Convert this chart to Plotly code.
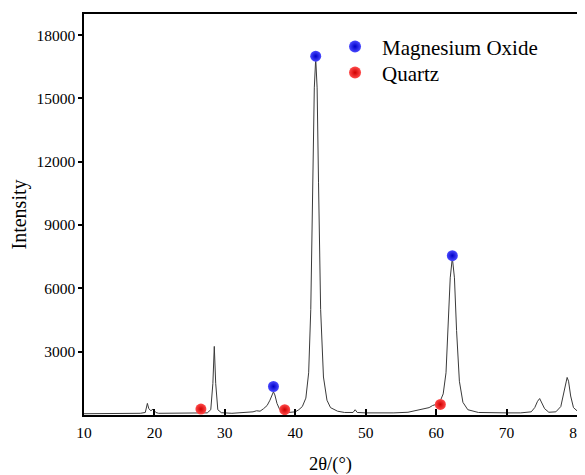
import plotly.graph_objects as go

two_theta = [10, 12, 14, 16, 18, 18.7, 19.0, 19.2, 19.5, 19.8, 20.2, 20.6, 22, 24, 26, 27.5,
             28.0, 28.3, 28.5, 28.7, 29.0, 29.5, 31, 32, 33, 34, 34.5, 35, 35.5, 36.0, 36.4,
             36.7, 36.9, 37.1, 37.4, 37.8, 38.3, 39, 40, 40.5, 41.0, 41.5, 41.9, 42.2, 42.5,
             42.7, 42.9, 43.1, 43.3, 43.6, 44.0, 44.5, 45, 46, 47, 48.2, 48.5, 48.8, 50, 52,
             54, 56, 57, 58, 58.5, 59, 59.5, 60, 60.5, 61.0, 61.4, 61.7, 62.0, 62.3, 62.6,
             62.9, 63.3, 63.8, 64.5, 66, 68, 70, 72, 73.5, 74.0, 74.4, 74.7, 75.0, 75.4, 76,
             77, 77.7, 78.1, 78.4, 78.6, 78.8, 79.1, 79.5, 80]
intensity = [60, 70, 80, 75, 80, 120, 550, 300, 200, 280, 120, 80, 80, 70, 80, 100,
             250, 1500, 3250, 1500, 250, 110, 80, 100, 110, 150, 200, 180, 300, 450, 700,
             1000, 1100, 950, 550, 250, 150, 120, 150, 250, 400, 800, 2000, 5000, 11000,
             15500, 16900, 15500, 11000, 5000, 1800, 700, 350, 180, 120, 120, 250, 120, 100, 90,
             100, 130, 200, 280, 320, 350, 450, 500, 600, 1000, 2000, 4000, 6500, 7450, 6500,
             4000, 1600, 600, 250, 120, 100, 100, 100, 150, 350, 650, 780, 600, 300, 130,
             150, 400, 1000, 1600, 1780, 1600, 900, 350, 200]

mgo_x = [36.9, 42.9, 62.3]
mgo_y = [1350, 17000, 7550]
quartz_x = [26.6, 38.5, 60.6]
quartz_y = [280, 250, 500]

y_ticks = [3000, 6000, 9000, 12000, 15000, 18000]
y_tick_labels = ["3000", "6000", "9000", "12000", "15000", "18000"]

ff = "Liberation Serif, Times New Roman, serif"

fig = go.Figure()
fig.add_trace(go.Scatter(x=two_theta, y=intensity, mode="lines",
                         line=dict(color="#3a3a3a", width=1), showlegend=False,
                         hoverinfo="skip"))
fig.add_trace(go.Scatter(x=mgo_x, y=mgo_y, mode="markers", name="Magnesium Oxide",
                         legend="legend",
                         marker=dict(size=11, color="#4a4aff",
                                     gradient=dict(type="radial", color="#0000c8"),
                                     line=dict(width=0))))
fig.add_trace(go.Scatter(x=quartz_x, y=quartz_y, mode="markers", name="Quartz",
                         legend="legend2",
                         marker=dict(size=11, color="#ff4a4a",
                                     gradient=dict(type="radial", color="#d00000"),
                                     line=dict(width=0))))

legend_style = dict(xanchor="left", yanchor="middle",
                    font=dict(size=21, family=ff, color="black"),
                    bgcolor="rgba(0,0,0,0)", itemsizing="constant", itemwidth=44)

# page body has an 8px margin, so the figure is sized 8px smaller
fig.update_layout(
    width=577, height=467,
    margin=dict(l=76, r=8, t=6, b=60, autoexpand=False),
    plot_bgcolor="white", paper_bgcolor="white",
    font=dict(family=ff, size=15, color="black"),
    legend=dict(x=0.495, y=0.918, **legend_style),
    legend2=dict(x=0.495, y=0.853, **legend_style),
    xaxis=dict(range=[10, 80], dtick=10, tick0=10, ticks="inside", ticklen=6,
               tickwidth=1.5, tickcolor="black", automargin=False,
               ticklabelstandoff=3,
               showline=True, linecolor="black", linewidth=1.5, mirror=True,
               showgrid=False, zeroline=False,
               title=dict(text="2θ/(°)", font=dict(size=18.5, family=ff, color="black"), standoff=19),
               tickfont=dict(size=15.5, family=ff, color="black")),
    yaxis=dict(range=[0, 19000], tickvals=y_ticks, ticktext=y_tick_labels,
               ticks="outside", ticklen=4, automargin=False,
               tickwidth=1.5, tickcolor="black",
               showline=True, linecolor="black", linewidth=1.5, mirror=True,
               showgrid=False, zeroline=False,
               title=dict(text="Intensity", font=dict(size=20, family=ff, color="black"), standoff=8),
               tickfont=dict(size=15.5, family=ff, color="black")),
)

fig.write_html("out.html")
